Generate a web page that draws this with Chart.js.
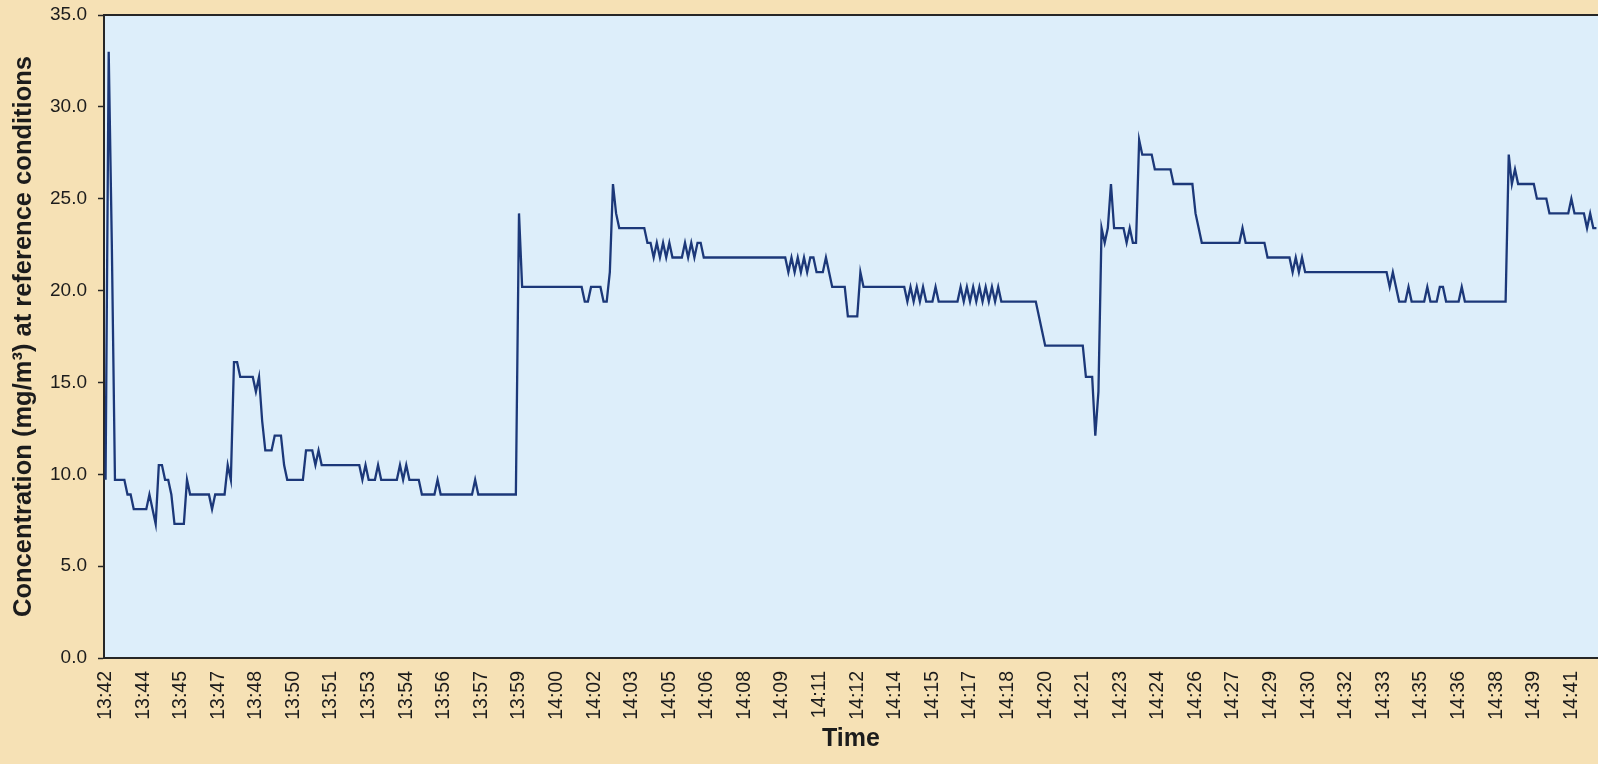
<!DOCTYPE html>
<html>
<head>
<meta charset="utf-8">
<title>Concentration over time</title>
<script src="https://cdn.jsdelivr.net/npm/chart.js@4/dist/chart.umd.min.js"></script>
<style>
  html, body { margin: 0; padding: 0; background: #f6e1b5; overflow: hidden; }
  #wrap { position: relative; width: 1598px; height: 764px; }
</style>
</head>
<body>
<div id="wrap"><canvas id="chart"></canvas></div>
<script>
// Axis labels shown every 12 samples along the time axis
const tickLabels = [
  '13:42', '13:44', '13:45', '13:47', '13:48', '13:50', '13:51', '13:53', '13:54', '13:56',
  '13:57', '13:59', '14:00', '14:02', '14:03', '14:05', '14:06', '14:08', '14:09', '14:11',
  '14:12', '14:14', '14:15', '14:17', '14:18', '14:20', '14:21', '14:23', '14:24', '14:26',
  '14:27', '14:29', '14:30', '14:32', '14:33', '14:35', '14:36', '14:38', '14:39', '14:41'
];
const samplesPerTick = 12;

// Concentration readings (mg/m3 at reference conditions), one row per labelled interval
const concentration = [
  9.7, 33.0, 22.5, 9.7, 9.7, 9.7, 9.7, 8.9, 8.9, 8.1, 8.1, 8.1,               // 13:42
  8.1, 8.1, 8.9, 8.1, 7.3, 10.5, 10.5, 9.7, 9.7, 8.9, 7.3, 7.3,               // 13:44
  7.3, 7.3, 9.7, 8.9, 8.9, 8.9, 8.9, 8.9, 8.9, 8.9, 8.1, 8.9,                 // 13:45
  8.9, 8.9, 8.9, 10.5, 9.7, 16.1, 16.1, 15.3, 15.3, 15.3, 15.3, 15.3,         // 13:47
  14.5, 15.3, 12.9, 11.3, 11.3, 11.3, 12.1, 12.1, 12.1, 10.5, 9.7, 9.7,       // 13:48
  9.7, 9.7, 9.7, 9.7, 11.3, 11.3, 11.3, 10.5, 11.3, 10.5, 10.5, 10.5,         // 13:50
  10.5, 10.5, 10.5, 10.5, 10.5, 10.5, 10.5, 10.5, 10.5, 10.5, 9.7, 10.5,      // 13:51
  9.7, 9.7, 9.7, 10.5, 9.7, 9.7, 9.7, 9.7, 9.7, 9.7, 10.5, 9.7,               // 13:53
  10.5, 9.7, 9.7, 9.7, 9.7, 8.9, 8.9, 8.9, 8.9, 8.9, 9.7, 8.9,                // 13:54
  8.9, 8.9, 8.9, 8.9, 8.9, 8.9, 8.9, 8.9, 8.9, 8.9, 9.7, 8.9,                 // 13:56
  8.9, 8.9, 8.9, 8.9, 8.9, 8.9, 8.9, 8.9, 8.9, 8.9, 8.9, 8.9,                 // 13:57
  24.2, 20.2, 20.2, 20.2, 20.2, 20.2, 20.2, 20.2, 20.2, 20.2, 20.2, 20.2,     // 13:59
  20.2, 20.2, 20.2, 20.2, 20.2, 20.2, 20.2, 20.2, 20.2, 19.4, 19.4, 20.2,     // 14:00
  20.2, 20.2, 20.2, 19.4, 19.4, 21.0, 25.8, 24.2, 23.4, 23.4, 23.4, 23.4,     // 14:02
  23.4, 23.4, 23.4, 23.4, 23.4, 22.6, 22.6, 21.8, 22.6, 21.8, 22.6, 21.8,     // 14:03
  22.6, 21.8, 21.8, 21.8, 21.8, 22.6, 21.8, 22.6, 21.8, 22.6, 22.6, 21.8,     // 14:05
  21.8, 21.8, 21.8, 21.8, 21.8, 21.8, 21.8, 21.8, 21.8, 21.8, 21.8, 21.8,     // 14:06
  21.8, 21.8, 21.8, 21.8, 21.8, 21.8, 21.8, 21.8, 21.8, 21.8, 21.8, 21.8,     // 14:08
  21.8, 21.8, 21.0, 21.8, 21.0, 21.8, 21.0, 21.8, 21.0, 21.8, 21.8, 21.0,     // 14:09
  21.0, 21.0, 21.8, 21.0, 20.2, 20.2, 20.2, 20.2, 20.2, 18.6, 18.6, 18.6,     // 14:11
  18.6, 21.0, 20.2, 20.2, 20.2, 20.2, 20.2, 20.2, 20.2, 20.2, 20.2, 20.2,     // 14:12
  20.2, 20.2, 20.2, 20.2, 19.4, 20.2, 19.4, 20.2, 19.4, 20.2, 19.4, 19.4,     // 14:14
  19.4, 20.2, 19.4, 19.4, 19.4, 19.4, 19.4, 19.4, 19.4, 20.2, 19.4, 20.2,     // 14:15
  19.4, 20.2, 19.4, 20.2, 19.4, 20.2, 19.4, 20.2, 19.4, 20.2, 19.4, 19.4,     // 14:17
  19.4, 19.4, 19.4, 19.4, 19.4, 19.4, 19.4, 19.4, 19.4, 19.4, 18.6, 17.8,     // 14:18
  17.0, 17.0, 17.0, 17.0, 17.0, 17.0, 17.0, 17.0, 17.0, 17.0, 17.0, 17.0,     // 14:20
  17.0, 15.3, 15.3, 15.3, 12.1, 14.5, 23.4, 22.6, 23.4, 25.8, 23.4, 23.4,     // 14:21
  23.4, 23.4, 22.6, 23.4, 22.6, 22.6, 28.2, 27.4, 27.4, 27.4, 27.4, 26.6,     // 14:23
  26.6, 26.6, 26.6, 26.6, 26.6, 25.8, 25.8, 25.8, 25.8, 25.8, 25.8, 25.8,     // 14:24
  24.2, 23.4, 22.6, 22.6, 22.6, 22.6, 22.6, 22.6, 22.6, 22.6, 22.6, 22.6,     // 14:26
  22.6, 22.6, 22.6, 23.4, 22.6, 22.6, 22.6, 22.6, 22.6, 22.6, 22.6, 21.8,     // 14:27
  21.8, 21.8, 21.8, 21.8, 21.8, 21.8, 21.8, 21.0, 21.8, 21.0, 21.8, 21.0,     // 14:29
  21.0, 21.0, 21.0, 21.0, 21.0, 21.0, 21.0, 21.0, 21.0, 21.0, 21.0, 21.0,     // 14:30
  21.0, 21.0, 21.0, 21.0, 21.0, 21.0, 21.0, 21.0, 21.0, 21.0, 21.0, 21.0,     // 14:32
  21.0, 21.0, 20.2, 21.0, 20.2, 19.4, 19.4, 19.4, 20.2, 19.4, 19.4, 19.4,     // 14:33
  19.4, 19.4, 20.2, 19.4, 19.4, 19.4, 20.2, 20.2, 19.4, 19.4, 19.4, 19.4,     // 14:35
  19.4, 20.2, 19.4, 19.4, 19.4, 19.4, 19.4, 19.4, 19.4, 19.4, 19.4, 19.4,     // 14:36
  19.4, 19.4, 19.4, 19.4, 27.4, 25.8, 26.6, 25.8, 25.8, 25.8, 25.8, 25.8,     // 14:38
  25.8, 25.0, 25.0, 25.0, 25.0, 24.2, 24.2, 24.2, 24.2, 24.2, 24.2, 24.2,     // 14:39
  25.0, 24.2, 24.2, 24.2, 24.2, 23.4, 24.2, 23.4, 23.4                        // 14:41
];

// Category for each sample: the tick text on labelled samples, blank otherwise
const categories = concentration.map((_, i) =>
  i % samplesPerTick === 0 && tickLabels[i / samplesPerTick] ? tickLabels[i / samplesPerTick] : '');

const yTicks = { min: 0, max: 35, step: 5 };

const FONT = '"Liberation Sans", Arial, Helvetica, sans-serif';
const INK = '#1c1c1c';
const AXIS = '#262626';
const PLOT_FILL = '#ddeefa';
const LINE = '#1c3879';

// Plot area fill and the frame line along its top edge
const plotFrame = {
  id: 'plotFrame',
  beforeDraw(chart) {
    const { ctx, chartArea: a } = chart;
    ctx.save();
    ctx.fillStyle = PLOT_FILL;
    ctx.fillRect(a.left, a.top, a.right - a.left, a.bottom - a.top);
    ctx.restore();
  },
  beforeDatasetsDraw(chart) {
    const { ctx, chartArea: a } = chart;
    ctx.save();
    ctx.strokeStyle = AXIS;
    ctx.lineWidth = 2;
    ctx.beginPath();
    ctx.moveTo(a.left, a.top);
    ctx.lineTo(a.right, a.top);
    ctx.stroke();
    ctx.restore();
  }
};

new Chart(document.getElementById('chart'), {
  type: 'line',
  data: {
    labels: categories,
    datasets: [{
      label: 'Concentration',
      data: concentration,
      borderColor: LINE,
      borderWidth: 2.3,
      pointRadius: 0,
      pointHoverRadius: 0,
      tension: 0,
      fill: false
    }]
  },
  options: {
    responsive: true,
    maintainAspectRatio: false,
    devicePixelRatio: 1,
    animation: false,
    events: [],
    layout: { padding: { top: 15, right: 0, bottom: 0, left: 0 } },
    plugins: {
      legend: { display: false },
      tooltip: { enabled: false },
      title: { display: false }
    },
    scales: {
      x: {
        type: 'category',
        offset: true,
        grid: { display: false },
        border: { display: true, color: AXIS, width: 2 },
        ticks: {
          autoSkip: false,
          minRotation: 90,
          maxRotation: 90,
          padding: 5,
          color: INK,
          font: { family: FONT, size: 19.5 },
          callback(value) {
            const t = this.getLabelForValue(value);
            return t === '' ? null : t;
          }
        },
        title: {
          display: true,
          text: 'Time',
          color: INK,
          font: { family: FONT, size: 25, weight: 'bold' },
          padding: { top: 0, bottom: 10 }
        },
        afterFit(scale) {
          scale.height = 106;
          scale.paddingLeft = 0;
          scale.paddingRight = 0;
        }
      },
      y: {
        min: yTicks.min,
        max: yTicks.max,
        grid: {
          display: true,
          drawOnChartArea: false,
          drawTicks: true,
          tickLength: 6,
          color: AXIS,
          tickColor: AXIS,
          tickWidth: 1.5
        },
        border: { display: true, color: AXIS, width: 2 },
        ticks: {
          stepSize: yTicks.step,
          padding: 11,
          color: INK,
          font: { family: FONT, size: 19 },
          callback: (v) => Number(v).toFixed(1)
        },
        title: {
          display: true,
          text: 'Concentration (mg/m³) at reference conditions',
          color: INK,
          font: { family: FONT, size: 25.5, weight: 'bold' },
          padding: { top: 9, bottom: 0 }
        },
        afterFit(scale) {
          scale.width = 104;
          scale.paddingTop = 0;
          scale.paddingBottom = 0;
        }
      }
    }
  },
  plugins: [plotFrame]
});
</script>
</body>
</html>
